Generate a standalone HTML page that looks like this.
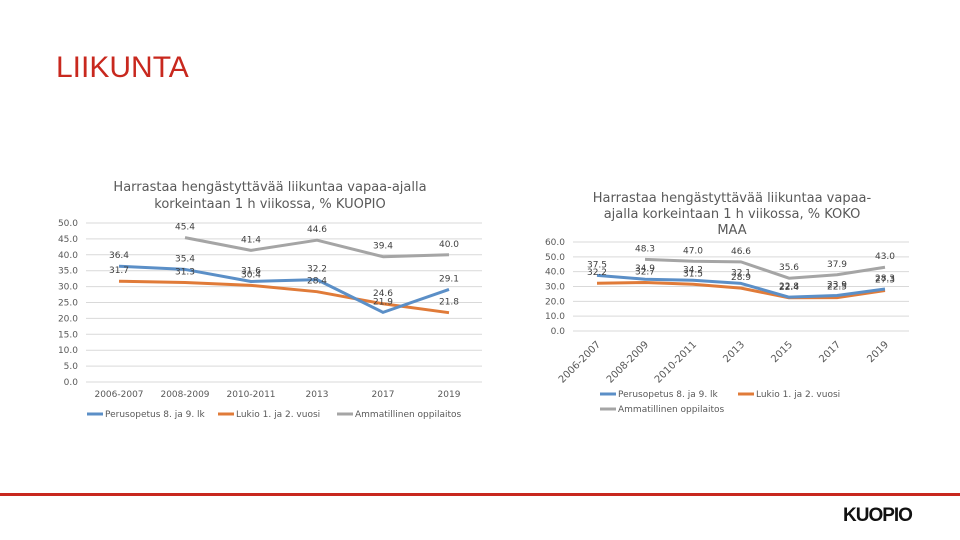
<!DOCTYPE html>
<html><head><meta charset="utf-8">
<style>
html,body{margin:0;padding:0;background:#fff;}
svg{display:block;font-family:"DejaVu Sans","Liberation Sans",sans-serif;}
</style></head>
<body>
<svg id="s" width="960" height="540" viewBox="0 0 960 540">
<text x="56" y="77" font-family="Liberation Sans, sans-serif" font-size="30" fill="#c8281e">LIIKUNTA</text>
<text x="270" y="191" text-anchor="middle" font-size="13" fill="#595959">Harrastaa hengästyttävää liikuntaa vapaa-ajalla</text>
<text x="270" y="208" text-anchor="middle" font-size="13" fill="#595959">korkeintaan 1 h viikossa, % KUOPIO</text>
<text x="732" y="202" text-anchor="middle" font-size="13" fill="#595959">Harrastaa hengästyttävää liikuntaa vapaa-</text>
<text x="732" y="218" text-anchor="middle" font-size="13" fill="#595959">ajalla korkeintaan 1 h viikossa, % KOKO</text>
<text x="732" y="234" text-anchor="middle" font-size="13" fill="#595959">MAA</text>
<g id="left"></g>
<g id="right"></g>
<rect x="0" y="493" width="960" height="3" fill="#c8281e"/>
<text x="843" y="521" font-family="Liberation Sans, sans-serif" font-weight="bold" font-size="19" fill="#111" letter-spacing="-1">KUOPIO</text>
</svg>
<script>
const leftCats=["2006-2007","2008-2009","2010-2011","2013","2017","2019"];
const leftBlue=[36.4,35.4,31.6,32.2,21.9,29.1];
const leftOrange=[31.7,31.3,30.4,28.4,24.6,21.8];
const leftGray=[null,45.4,41.4,44.6,39.4,40.0];
const leftTicks=[0,5,10,15,20,25,30,35,40,45,50];
const rightCats=["2006-2007","2008-2009","2010-2011","2013","2015","2017","2019"];
const rightBlue=[37.5,34.9,34.2,32.1,22.8,23.9,28.3];
const rightOrange=[32.2,32.7,31.5,28.9,22.4,22.5,27.3];
const rightGray=[null,48.3,47.0,46.6,35.6,37.9,43.0];
const rightTicks=[0,10,20,30,40,50,60];
const seriesNames=["Perusopetus 8. ja 9. lk","Lukio 1. ja 2. vuosi","Ammatillinen oppilaitos"];
const colors=["#5b8fc7","#e07b39","#a5a5a5"];
const NS="http://www.w3.org/2000/svg";
function mk(parent,tag,attrs,txt){const e=document.createElementNS(NS,tag);for(const k in attrs)e.setAttribute(k,attrs[k]);if(txt!==undefined)e.textContent=txt;parent.appendChild(e);return e;}

function chart(g,cfg){
  const {cats,series,ticks,x0,x1,y0,y1,ymax,rot}=cfg;
  const step=(x1-x0)/cats.length;
  const xs=i=>x0+step*(i+0.5);
  const ys=v=>y0-(v/ymax)*(y0-y1);
  ticks.forEach(t=>{
    const l=mk(g,'line',{x1:x0,x2:x1,y1:ys(t),y2:ys(t),stroke:'#d9d9d9','stroke-width':1});
    
    
    const tx=mk(g,'text',{x:x0-8,y:ys(t)+3,'text-anchor':'end','font-size':9,fill:'#595959'},t.toFixed(1));
    
    
  });
  cats.forEach((c,i)=>{
    let tx;
    if(rot){tx=mk(g,'text',{x:xs(i)+4,y:y0+14,'text-anchor':'end','font-size':10,fill:'#595959',transform:`rotate(-45 ${xs(i)+4} ${y0+14})`},c);}
    else{tx=mk(g,'text',{x:xs(i),y:y0+15,'text-anchor':'middle','font-size':9,fill:'#595959'},c);}
    
    
  });
  const order=[2,1,0];
  order.forEach(si=>{
    const vals=series[si];let d='';
    vals.forEach((v,i)=>{if(v===null)return;d+=(d?'L':'M')+xs(i)+' '+ys(v);});
    const p=mk(g,'path',{d:d,fill:'none',stroke:colors[si],'stroke-width':3,'stroke-linejoin':'round'});
    
    
  });
  series.forEach((vals,si)=>{
    vals.forEach((v,i)=>{if(v===null)return;
      const t=mk(g,'text',{x:xs(i),y:ys(v)-8,'text-anchor':'middle','font-size':9,fill:'#404040'},v.toFixed(1));
      
      
    });
  });
}
chart(document.getElementById('left'),{cats:leftCats,series:[leftBlue,leftOrange,leftGray],ticks:leftTicks,x0:86,x1:482,y0:382,y1:223,ymax:50,rot:false});
chart(document.getElementById('right'),{cats:rightCats,series:[rightBlue,rightOrange,rightGray],ticks:rightTicks,x0:573,x1:909,y0:331,y1:242,ymax:60,rot:true});

function legend(g,items){
  items.forEach(it=>{
    const l=mk(g,'line',{x1:it.x,x2:it.x+16,y1:it.y,y2:it.y,stroke:colors[it.s],'stroke-width':3});
    
    
    const t=mk(g,'text',{x:it.x+18,y:it.y+3,'font-size':9,fill:'#595959'},seriesNames[it.s]);
    
    
  });
}
legend(document.getElementById('left'),[{x:87,y:414,s:0},{x:218,y:414,s:1},{x:337,y:414,s:2}]);
legend(document.getElementById('right'),[{x:600,y:394,s:0},{x:738,y:394,s:1},{x:600,y:409,s:2}]);
</script>
</body></html>
